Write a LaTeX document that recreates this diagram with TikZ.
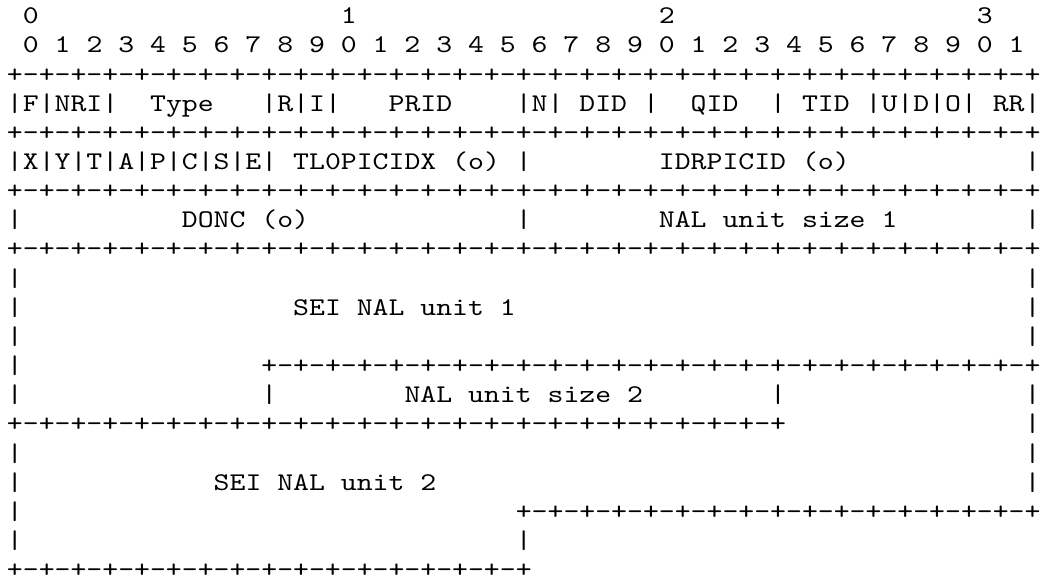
\documentclass[tikz,border=0pt]{standalone}
\usepackage{fontspec}
% measure natural glyph width, then stretch so one character is 15.9px (11.925pt) wide
\newfontfamily\tmpmono{lmmono10-regular.otf}
\newlength\monow
\settowidth\monow{\tmpmono\fontsize{19.125pt}{20pt}\selectfont 0}
\pgfmathsetmacro\monostretch{11.925/\monow}
\edef\loadmono{\noexpand\newfontfamily\noexpand\asciimono{lmmono10-regular.otf}[FakeStretch=\monostretch]}
\loadmono
\newcommand\pd[1]{\foreach \k in {1,...,#1}{+-}+}
\tikzset{
  seg/.style={anchor=base west, inner sep=0pt, outer sep=0pt,
    font=\asciimono\fontsize{19.125pt}{21.87pt}\selectfont, text=black}
}
\newcommand\seg[4]{\node[seg] (#1) at ({7+15.9*#3},{169.5+29.16*(#2-6)}) {#4};}
\begin{document}
\begin{tikzpicture}[x=0.75pt,y=-0.75pt]
\useasboundingbox (0,0) rectangle (1041,585);
% ruler
\seg{ra}{1}{1}{0}
\seg{rb}{1}{21}{1}
\seg{rc}{1}{41}{2}
\seg{rd}{1}{61}{3}
\seg{rbits}{2}{1}{0 1 2 3 4 5 6 7 8 9 0 1 2 3 4 5 6 7 8 9 0 1 2 3 4 5 6 7 8 9 0 1}
% header row 1
\seg{b3}{3}{0}{\pd{32}}
\seg{fa}{4}{0}{|F|NRI|}
\seg{fb}{4}{9}{Type}
\seg{fc}{4}{16}{|R|I|}
\seg{fd}{4}{24}{PRID}
\seg{fe}{4}{32}{|N|}
\seg{ff}{4}{36}{DID}
\seg{fg}{4}{40}{|}
\seg{fh}{4}{43}{QID}
\seg{fi}{4}{48}{|}
\seg{fj}{4}{50}{TID}
\seg{fk}{4}{54}{|U|D|O|}
\seg{fl}{4}{62}{RR|}
\seg{b5}{5}{0}{\pd{32}}
% header row 2
\seg{xa}{6}{0}{|X|Y|T|A|P|C|S|E|}
\seg{xb}{6}{18}{TL0PICIDX (o)}
\seg{xc}{6}{32}{|}
\seg{xd}{6}{41}{IDRPICID (o)}
\seg{xe}{6}{64}{|}
\seg{b7}{7}{0}{\pd{32}}
% DONC row
\seg{da}{8}{0}{|}
\seg{db}{8}{11}{DONC (o)}
\seg{dc}{8}{32}{|}
\seg{dd}{8}{41}{NAL unit size 1}
\seg{de}{8}{64}{|}
\seg{b9}{9}{0}{\pd{32}}
% SEI NAL unit 1
\seg{s10a}{10}{0}{|}
\seg{s10b}{10}{64}{|}
\seg{s11a}{11}{0}{|}
\seg{s11b}{11}{18}{SEI NAL unit 1}
\seg{s11c}{11}{64}{|}
\seg{s12a}{12}{0}{|}
\seg{s12b}{12}{64}{|}
\seg{s13a}{13}{0}{|}
\seg{b13}{13}{16}{\pd{24}}
% NAL unit size 2
\seg{n14a}{14}{0}{|}
\seg{n14b}{14}{16}{|}
\seg{n14c}{14}{25}{NAL unit size 2}
\seg{n14d}{14}{48}{|}
\seg{n14e}{14}{64}{|}
\seg{b15}{15}{0}{\pd{24}}
\seg{n15a}{15}{64}{|}
% SEI NAL unit 2
\seg{t16a}{16}{0}{|}
\seg{t16b}{16}{64}{|}
\seg{t17a}{17}{0}{|}
\seg{t17b}{17}{13}{SEI NAL unit 2}
\seg{t17c}{17}{64}{|}
\seg{t18a}{18}{0}{|}
\seg{b18}{18}{32}{\pd{16}}
\seg{t19a}{19}{0}{|}
\seg{t19b}{19}{32}{|}
\seg{b20}{20}{0}{\pd{16}}
\end{tikzpicture}
\end{document}
